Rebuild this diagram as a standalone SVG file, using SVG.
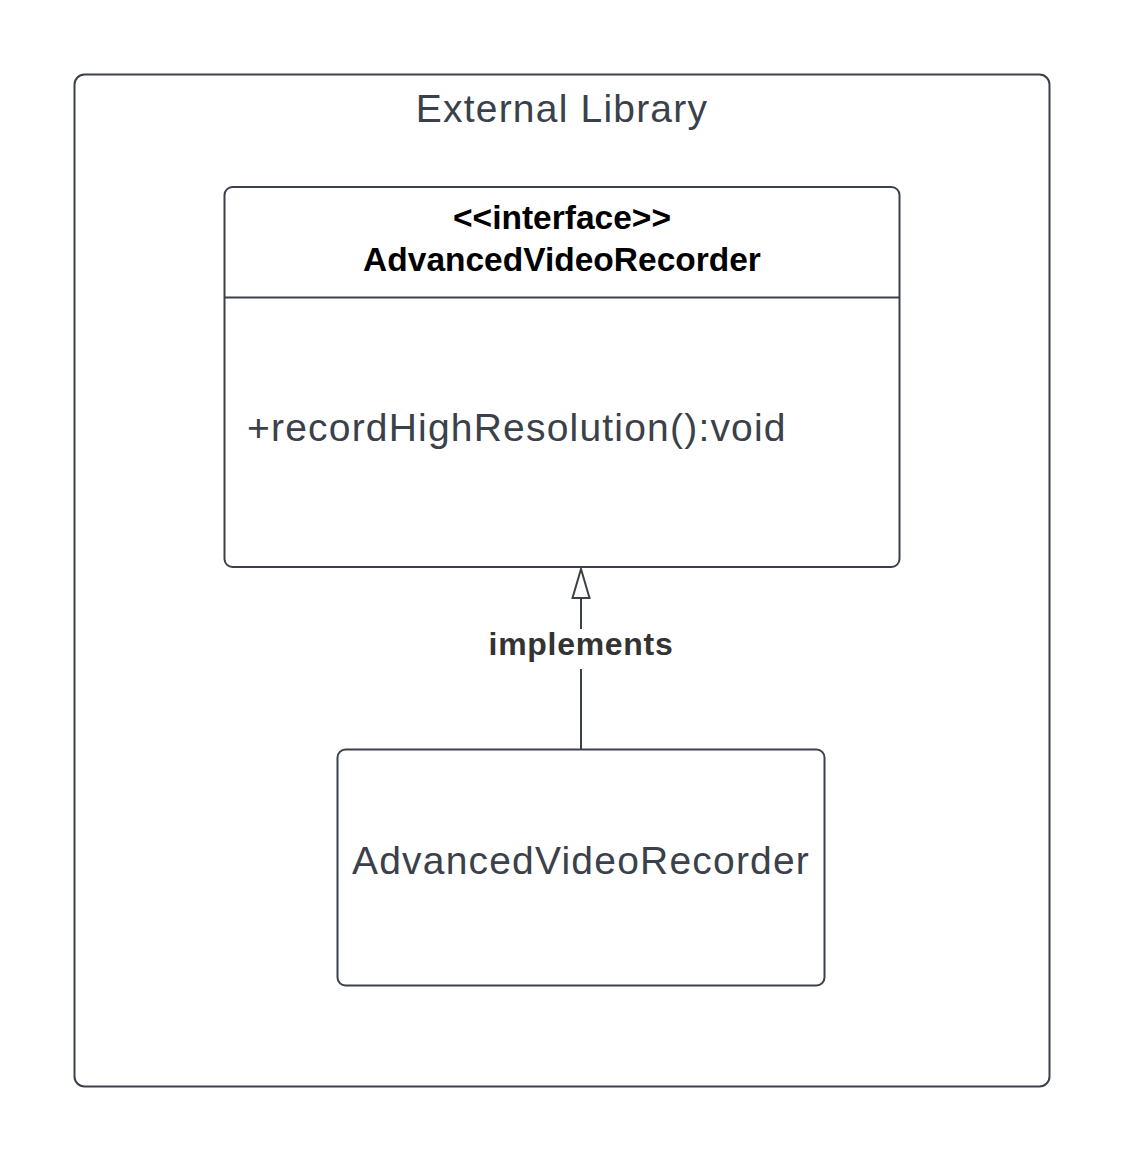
<svg xmlns="http://www.w3.org/2000/svg" width="1125" height="1163" viewBox="0 0 1125 1163">
<style>
.box{fill:#ffffff;stroke:#3a414a;stroke-width:2}
.t{font-family:"Liberation Sans",Arial,sans-serif;fill:#3a414a;font-size:39px;letter-spacing:1.2px}
.h{font-family:"Liberation Sans",Arial,sans-serif;font-weight:bold;fill:#000000;font-size:33.5px}
.c{stroke:#3a414a;stroke-width:2;fill:none}
</style>
<defs>
<marker id="tri" markerWidth="32" markerHeight="20" refX="30" refY="10" orient="auto" markerUnits="userSpaceOnUse" viewBox="0 0 32 20">
<path d="M30 10 L1 1.5 L1 18.5 Z" fill="#ffffff" stroke="#3a414a" stroke-width="2"/>
</marker>
</defs>
<rect width="1125" height="1163" fill="#ffffff"/>
<g id="external-library">
<rect class="box" x="74.5" y="74.5" width="975" height="1012" rx="10"/>
<text class="t" x="562" y="122" text-anchor="middle">External Library</text>
</g>
<g id="interface-node">
<rect class="box" x="224.5" y="187" width="675" height="380" rx="8"/>
<line class="c" x1="224.5" y1="297.5" x2="899.5" y2="297.5"/>
<text class="h" x="562" y="229" text-anchor="middle">&lt;&lt;interface&gt;&gt;</text>
<text class="h" x="562" y="271" text-anchor="middle">AdvancedVideoRecorder</text>
<text class="t" x="247" y="441">+recordHighResolution():void</text>
</g>
<g id="class-node">
<rect class="box" x="337.5" y="749.5" width="487" height="236" rx="8"/>
<text class="t" x="581" y="874" text-anchor="middle">AdvancedVideoRecorder</text>
</g>
<g id="connectors">
<line class="c" x1="581" y1="749" x2="581" y2="669"/>
<line class="c" x1="581" y1="629" x2="581" y2="569" marker-end="url(#tri)"/>
<text x="581" y="655" font-family="Liberation Sans,Arial,sans-serif" font-weight="bold" font-size="32" letter-spacing="0.7" fill="#333333" text-anchor="middle">implements</text>
</g>
</svg>
